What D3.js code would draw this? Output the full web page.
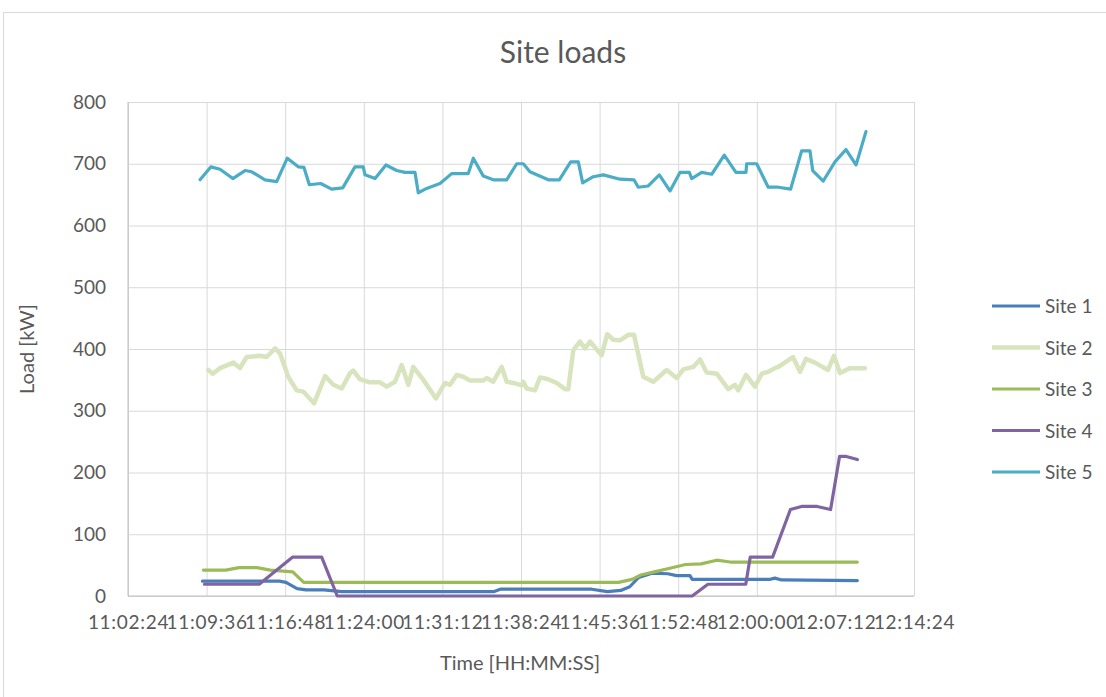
<!DOCTYPE html>
<html>
<head>
<meta charset="utf-8">
<script src="https://cdn.jsdelivr.net/npm/d3@7/dist/d3.min.js"></script>
<style>
  html, body { margin: 0; padding: 0; background: #fff; }
  svg { display: block; }
  text { font-family: Lato, "Open Sans", sans-serif; fill: #595959; }
</style>
</head>
<body>
<svg id="chart" width="1106" height="697"></svg>
<script>
// ---- data (times in minutes after 11:00:00) ----
const seriesNames = ["Site 1", "Site 2", "Site 3", "Site 4", "Site 5"];
const seriesColors = ["#4a7ebb", "#d7e4bd", "#9bbb59", "#8064a2", "#4bacc6"];

const site1T = [9.22, 16.26, 16.87, 17.89, 18.7, 20.35, 21.98, 35.89, 36.5, 44.88, 46.31, 47.54, 48.36, 49.18, 50.4, 51.84, 52.65, 53.88, 54.08, 61.24, 61.66, 62.26, 69.21];
const site1V = [24, 24, 22, 12, 10, 10, 7, 7, 11, 11, 7, 9, 15, 30, 37, 36, 33, 33, 27, 27, 29, 26, 25];

const site2T = [9.76, 10.16, 10.83, 12.05, 12.66, 13.27, 14.49, 15.1, 15.87, 16.32, 17.08, 17.85, 18.46, 19.44, 20.45, 21.21, 21.98, 22.74, 23.04, 23.65, 24.57, 25.48, 26.1, 26.86, 27.47, 28.08, 28.53, 29.45, 30.61, 31.44, 31.9, 32.51, 33.11, 33.73, 34.95, 35.26, 35.86, 36.63, 37.09, 37.69, 38.46, 38.61, 38.92, 39.68, 40.14, 40.9, 41.67, 42.43, 42.73, 43.19, 43.8, 44.26, 44.72, 45.79, 46.3, 46.85, 47.47, 48.23, 48.75, 49.6, 50.52, 51.74, 52.66, 53.27, 54.18, 54.8, 55.41, 56.33, 57.39, 58.0, 58.3, 59.01, 59.83, 60.45, 61.05, 61.67, 61.97, 63.31, 63.96, 64.5, 65.33, 66.52, 67.07, 67.62, 68.54, 69.91];
const site2V = [366, 360, 369, 378, 369, 387, 389, 387, 401, 393, 355, 333, 331, 312, 356, 342, 336, 361, 365, 351, 346, 346, 339, 347, 374, 342, 371, 350, 320, 345, 342, 358, 355, 349, 349, 353, 347, 371, 347, 345, 341, 347, 336, 333, 354, 351, 345, 335, 335, 398, 412, 401, 412, 390, 424, 415, 414, 423, 423, 355, 347, 366, 353, 367, 371, 383, 362, 360, 335, 342, 333, 358, 339, 360, 363, 369, 371, 387, 363, 384, 378, 366, 389, 361, 369, 369];

const site3T = [9.31, 11.35, 12.58, 14.22, 15.44, 17.49, 18.5, 47.34, 48.57, 49.38, 50.61, 52.04, 53.47, 54.9, 56.33, 57.56, 69.21];
const site3V = [42, 42, 46, 46, 42, 39, 22, 22, 27, 34, 39, 45, 51, 52, 58, 55, 55];

const site4T = [9.4, 14.42, 17.49, 20.14, 21.57, 54.08, 55.52, 58.99, 59.4, 61.45, 63.08, 64.1, 65.53, 66.76, 67.58, 68.2, 69.21];
const site4V = [19, 19, 63, 63, 0, 0, 19, 19, 63, 63, 140, 145, 145, 140, 226, 226, 221];

const site5T = [9.0, 10.0, 10.83, 12.0, 13.12, 13.73, 14.95, 16.02, 16.99, 18.0, 18.52, 19.01, 20.05, 21.06, 22.07, 23.19, 23.95, 24.11, 25.03, 26.03, 27.01, 27.77, 28.69, 28.99, 29.76, 30.98, 32.05, 33.57, 34.03, 34.95, 35.56, 35.86, 37.09, 38.01, 38.61, 39.22, 40.9, 41.91, 42.95, 43.65, 44.05, 45.02, 45.94, 47.47, 48.75, 49.14, 50.06, 51.07, 52.05, 52.96, 53.82, 54.04, 54.95, 55.87, 57.02, 58.09, 59.01, 59.07, 59.99, 61.05, 61.97, 63.1, 64.11, 64.87, 65.12, 66.09, 67.16, 68.17, 69.09, 70.0];
const site5V = [674, 695, 691, 676, 689, 687, 674, 671, 709, 695, 694, 666, 668, 659, 661, 695, 695, 682, 676, 698, 689, 686, 686, 653, 660, 668, 684, 684, 709, 680, 676, 674, 674, 700, 700, 687, 674, 674, 703, 703, 669, 679, 682, 675, 674, 662, 664, 682, 656, 686, 686, 676, 686, 683, 714, 686, 686, 700, 700, 662, 662, 659, 721, 721, 689, 672, 703, 723, 698, 752];

const xTickLabels = ["11:02:24", "11:09:36", "11:16:48", "11:24:00", "11:31:12", "11:38:24", "11:45:36", "11:52:48", "12:00:00", "12:07:12", "12:14:24"];
const yTicks = [0, 100, 200, 300, 400, 500, 600, 700, 800];

const titleText = "Site loads";
const xTitle = "Time [HH:MM:SS]";
const yTitle = "Load [kW]";

// ---- build ----
const parse = d3.timeParse("%H:%M:%S");
const fmt = d3.timeFormat("%H:%M:%S");
const base = parse("11:00:00").getTime();
const toDate = m => new Date(base + m * 60000);

const seriesT = [site1T, site2T, site3T, site4T, site5T];
const seriesV = [site1V, site2V, site3V, site4V, site5V];
const series = seriesNames.map((name, i) => ({
  name, color: seriesColors[i],
  points: seriesT[i].map((t, j) => ({ t: toDate(t), v: seriesV[i][j] }))
}));

const svg = d3.select("#chart");
const L = 128, R = 914, T = 102, B = 596;

// chart border
svg.append("rect").attr("x", 3.5).attr("y", 12.5).attr("width", 1120).attr("height", 720)
  .attr("fill", "none").attr("stroke", "#d9d9d9");

const xTickDates = xTickLabels.map(parse);
const x = d3.scaleTime().domain([xTickDates[0], xTickDates[xTickDates.length - 1]]).range([L, R]);
const y = d3.scaleLinear().domain([0, 800]).range([B, T]);

// gridlines
const gx = svg.append("g").attr("transform", `translate(0,${B})`)
  .call(d3.axisBottom(x).tickValues(xTickDates).tickFormat(fmt).tickSize(-(B - T)).tickPadding(20));
gx.select(".domain").remove();
gx.selectAll(".tick line").attr("stroke", "#d9d9d9");
gx.selectAll(".tick text").attr("font-size", 19).style("font-family", "Lato")
  .style("letter-spacing", "0.7px").attr("fill", "#595959");

const gy = svg.append("g").attr("transform", `translate(${L},0)`)
  .call(d3.axisLeft(y).tickValues(yTicks).tickSize(-(R - L)).tickPadding(22));
gy.select(".domain").remove();
gy.selectAll(".tick line").attr("stroke", "#d9d9d9");
gy.selectAll(".tick text").attr("font-size", 19).style("font-family", "Lato").attr("fill", "#595959");

// axis lines
svg.append("line").attr("x1", L).attr("x2", L).attr("y1", T).attr("y2", B).attr("stroke", "#bfbfbf");
svg.append("line").attr("x1", L).attr("x2", R).attr("y1", B).attr("y2", B).attr("stroke", "#bfbfbf");

// lines
const line = d3.line().x(d => x(d.t)).y(d => y(d.v));
series.forEach((s, i) => {
  svg.append("path").datum(s.points)
    .attr("d", line)
    .attr("fill", "none")
    .attr("stroke", s.color)
    .attr("stroke-width", i === 1 ? 4.5 : 3.2)
    .attr("stroke-linejoin", "round")
    .attr("stroke-linecap", "round");
});

// title
svg.append("text").attr("x", 563).attr("y", 63).attr("text-anchor", "middle")
  .attr("font-size", 30).text(titleText);

// axis titles
svg.append("text").attr("x", 520).attr("y", 670).attr("text-anchor", "middle")
  .attr("font-size", 20).text(xTitle);
svg.append("text").attr("transform", `translate(34,349) rotate(-90)`).attr("text-anchor", "middle")
  .attr("font-size", 20).text(yTitle);

// legend
const lg = svg.append("g");
series.forEach((s, i) => {
  const yy = 306 + i * 41.5;
  lg.append("line").attr("x1", 992).attr("x2", 1040).attr("y1", yy).attr("y2", yy)
    .attr("stroke", s.color).attr("stroke-width", i === 1 ? 4.5 : 3.2);
  lg.append("text").attr("x", 1045).attr("y", yy + 7).attr("font-size", 19).text(s.name);
});
</script>
</body>
</html>
